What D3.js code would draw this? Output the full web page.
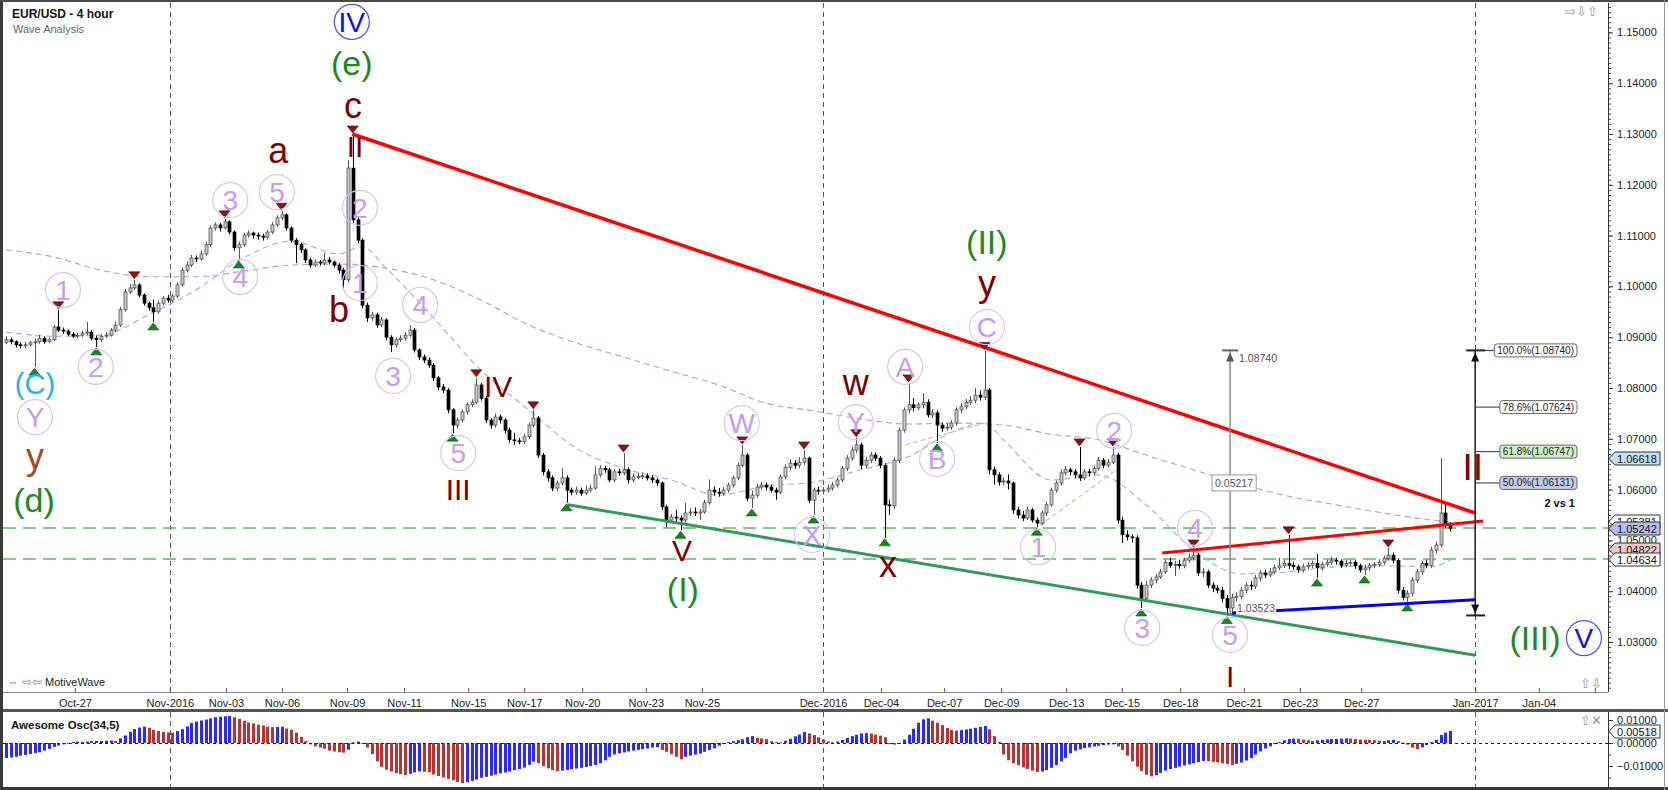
<!DOCTYPE html>
<html><head><meta charset="utf-8"><title>EUR/USD - 4 hour</title>
<script src="https://cdn.jsdelivr.net/npm/d3@7/dist/d3.min.js"></script>
<style>
html,body{margin:0;padding:0;background:#fff;overflow:hidden}
text{font-family:"Liberation Sans",Arial,Helvetica,sans-serif}
</style></head><body>
<svg id="chart" width="1668" height="790"></svg>
<script>
// ---------------- DATA ----------------
const firstOpen = 1.0890;
const closes = [
1.0895,1.0891,1.0885,1.0883,1.0885,1.0889,1.0891,1.0898,1.0891,1.0895,
1.0920,1.0914,1.0912,1.0906,1.0902,1.0904,1.0908,1.0910,1.0898,1.0895,
1.0902,1.0904,1.0914,1.0924,1.0954,1.0989,1.0997,1.1003,1.0983,1.0967,
1.0958,1.0950,1.0967,1.0977,1.0973,1.0981,1.1003,1.1032,1.1042,1.1056,
1.1054,1.1064,1.1082,1.1115,1.1121,1.1115,1.1127,1.1107,1.1076,1.1082,
1.1101,1.1105,1.1101,1.1099,1.1097,1.1107,1.1121,1.1135,1.1141,1.1115,
1.1091,1.1082,1.1072,1.1052,1.1042,1.1048,1.1046,1.1052,1.1048,1.1042,
1.1032,1.1013,1.1233,1.1131,1.1091,1.0963,1.0938,1.0944,1.0924,1.0934,
1.0900,1.0885,1.0895,1.0898,1.0904,1.0914,1.0875,1.0861,1.0855,1.0845,
1.0820,1.0802,1.0796,1.0757,1.0727,1.0737,1.0753,1.0767,1.0772,1.0806,
1.0780,1.0737,1.0727,1.0743,1.0737,1.0717,1.0698,1.0696,1.0694,1.0704,
1.0727,1.0741,1.0668,1.0635,1.0623,1.0603,1.0613,1.0623,1.0599,1.0595,
1.0599,1.0593,1.0599,1.0603,1.0629,1.0642,1.0639,1.0619,1.0635,1.0633,
1.0639,1.0619,1.0625,1.0626,1.0627,1.0623,1.0619,1.0613,1.0566,1.0540,
1.0546,1.0544,1.0540,1.0554,1.0556,1.0554,1.0556,1.0574,1.0599,1.0595,
1.0593,1.0599,1.0609,1.0623,1.0648,1.0668,1.0583,1.0589,1.0605,1.0609,
1.0605,1.0599,1.0595,1.0625,1.0644,1.0652,1.0648,1.0654,1.0662,1.0579,
1.0599,1.0597,1.0599,1.0603,1.0609,1.0619,1.0642,1.0662,1.0678,1.0688,
1.0648,1.0658,1.0668,1.0662,1.0648,1.0570,1.0568,1.0658,1.0717,1.0757,
1.0767,1.0761,1.0767,1.0772,1.0747,1.0751,1.0727,1.0721,1.0723,1.0731,
1.0757,1.0763,1.0772,1.0776,1.0786,1.0782,1.0796,1.0639,1.0629,1.0615,
1.0617,1.0613,1.0560,1.0550,1.0544,1.0560,1.0540,1.0534,1.0554,1.0570,
1.0599,1.0613,1.0633,1.0639,1.0635,1.0629,1.0623,1.0635,1.0633,1.0642,
1.0658,1.0648,1.0654,1.0668,1.0540,1.0511,1.0507,1.0505,1.0412,1.0386,
1.0412,1.0422,1.0428,1.0438,1.0457,1.0451,1.0453,1.0450,1.0461,1.0467,
1.0471,1.0436,1.0438,1.0412,1.0406,1.0402,1.0386,1.0367,1.0388,1.0390,
1.0402,1.0412,1.0410,1.0426,1.0436,1.0432,1.0438,1.0446,1.0450,1.0455,
1.0451,1.0448,1.0442,1.0448,1.0451,1.0455,1.0446,1.0453,1.0457,1.0461,
1.0459,1.0451,1.0455,1.0457,1.0450,1.0442,1.0446,1.0450,1.0453,1.0457,
1.0465,1.0471,1.0461,1.0402,1.0388,1.0396,1.0422,1.0438,1.0455,1.0451,
1.0481,1.0491,1.0554,1.0530,1.0524];
const highs = [
1.0902,1.0899,1.0894,1.0890,1.0891,1.0893,1.0897,1.0905,1.0902,1.0900,
1.0924,1.0954,1.0919,1.0915,1.0910,1.0909,1.0913,1.0930,1.0914,1.0903,
1.0906,1.0910,1.0918,1.0930,1.0960,1.0995,1.1004,1.1013,1.1006,1.0986,
1.0970,1.0974,1.0972,1.0981,1.0983,1.0986,1.1008,1.1038,1.1049,1.1062,
1.1061,1.1070,1.1088,1.1120,1.1126,1.1125,1.1133,1.1130,1.1110,1.1088,
1.1106,1.1110,1.1108,1.1106,1.1104,1.1111,1.1126,1.1140,1.1148,1.1144,
1.1118,1.1095,1.1086,1.1075,1.1056,1.1053,1.1052,1.1066,1.1058,1.1051,
1.1046,1.1036,1.1249,1.1300,1.1136,1.1095,1.0968,1.0950,1.0948,1.0940,
1.0937,1.0904,1.0900,1.0904,1.0910,1.0924,1.0918,1.0878,1.0866,1.0860,
1.0849,1.0824,1.0808,1.0800,1.0760,1.0742,1.0758,1.0772,1.0778,1.0820,
1.0810,1.0784,1.0741,1.0750,1.0748,1.0741,1.0722,1.0712,1.0702,1.0710,
1.0732,1.0757,1.0745,1.0672,1.0640,1.0628,1.0618,1.0642,1.0628,1.0604,
1.0606,1.0604,1.0608,1.0610,1.0646,1.0648,1.0647,1.0643,1.0640,1.0641,
1.0672,1.0644,1.0632,1.0633,1.0634,1.0632,1.0628,1.0623,1.0616,1.0570,
1.0552,1.0560,1.0549,1.0574,1.0563,1.0565,1.0562,1.0580,1.0620,1.0606,
1.0603,1.0605,1.0614,1.0628,1.0654,1.0688,1.0672,1.0598,1.0612,1.0615,
1.0614,1.0610,1.0604,1.0630,1.0650,1.0660,1.0658,1.0664,1.0678,1.0665,
1.0604,1.0606,1.0605,1.0610,1.0615,1.0624,1.0647,1.0668,1.0684,1.0702,
1.0692,1.0664,1.0674,1.0673,1.0666,1.0652,1.0580,1.0664,1.0722,1.0762,
1.0810,1.0780,1.0772,1.0790,1.0778,1.0758,1.0756,1.0732,1.0730,1.0737,
1.0762,1.0770,1.0778,1.0784,1.0800,1.0795,1.0874,1.0800,1.0645,1.0634,
1.0624,1.0630,1.0616,1.0566,1.0558,1.0566,1.0564,1.0545,1.0559,1.0576,
1.0604,1.0618,1.0640,1.0646,1.0643,1.0640,1.0684,1.0640,1.0641,1.0648,
1.0664,1.0662,1.0660,1.0684,1.0672,1.0546,1.0520,1.0512,1.0510,1.0418,
1.0420,1.0428,1.0434,1.0444,1.0462,1.0466,1.0460,1.0462,1.0466,1.0474,
1.0485,1.0476,1.0446,1.0442,1.0418,1.0412,1.0408,1.0392,1.0395,1.0398,
1.0408,1.0418,1.0420,1.0432,1.0442,1.0442,1.0446,1.0452,1.0466,1.0462,
1.0511,1.0458,1.0452,1.0454,1.0457,1.0460,1.0474,1.0458,1.0462,1.0468,
1.0466,1.0463,1.0461,1.0462,1.0461,1.0454,1.0452,1.0456,1.0458,1.0463,
1.0470,1.0485,1.0476,1.0465,1.0408,1.0402,1.0428,1.0444,1.0460,1.0462,
1.0488,1.0498,1.0662,1.0574,1.0536];
const lows = [
1.0886,1.0886,1.0880,1.0878,1.0879,1.0882,1.0841,1.0887,1.0887,1.0888,
1.0892,1.0910,1.0907,1.0902,1.0898,1.0898,1.0900,1.0904,1.0894,1.0881,
1.0890,1.0898,1.0901,1.0910,1.0920,1.0950,1.0985,1.0993,1.0978,1.0962,
1.0952,1.0930,1.0946,1.0962,1.0968,1.0969,1.0977,1.0999,1.1027,1.1038,
1.1048,1.1050,1.1060,1.1078,1.1110,1.1108,1.1112,1.1102,1.1070,1.1052,
1.1078,1.1096,1.1094,1.1092,1.1090,1.1093,1.1103,1.1117,1.1130,1.1110,
1.1086,1.1046,1.1066,1.1046,1.1037,1.1038,1.1041,1.1042,1.1043,1.1037,
1.1026,1.0993,1.1008,1.1125,1.1085,1.0957,1.0930,1.0932,1.0918,1.0920,
1.0894,1.0871,1.0880,1.0890,1.0893,1.0900,1.0870,1.0855,1.0849,1.0840,
1.0814,1.0796,1.0790,1.0750,1.0711,1.0720,1.0732,1.0748,1.0762,1.0768,
1.0775,1.0731,1.0720,1.0722,1.0730,1.0710,1.0692,1.0688,1.0689,1.0690,
1.0700,1.0722,1.0662,1.0628,1.0616,1.0597,1.0598,1.0608,1.0574,1.0589,
1.0590,1.0588,1.0589,1.0594,1.0600,1.0624,1.0633,1.0614,1.0614,1.0627,
1.0628,1.0612,1.0614,1.0620,1.0621,1.0618,1.0613,1.0607,1.0560,1.0526,
1.0535,1.0536,1.0520,1.0536,1.0548,1.0548,1.0540,1.0552,1.0570,1.0588,
1.0586,1.0588,1.0594,1.0604,1.0618,1.0644,1.0577,1.0564,1.0584,1.0600,
1.0598,1.0594,1.0580,1.0591,1.0620,1.0638,1.0641,1.0642,1.0648,1.0573,
1.0550,1.0590,1.0591,1.0594,1.0598,1.0604,1.0614,1.0637,1.0657,1.0672,
1.0640,1.0642,1.0652,1.0656,1.0642,1.0505,1.0550,1.0562,1.0652,1.0712,
1.0750,1.0754,1.0756,1.0760,1.0742,1.0740,1.0692,1.0714,1.0716,1.0718,
1.0726,1.0750,1.0758,1.0766,1.0770,1.0775,1.0776,1.0630,1.0610,1.0608,
1.0608,1.0600,1.0552,1.0543,1.0538,1.0540,1.0535,1.0526,1.0530,1.0548,
1.0566,1.0594,1.0608,1.0628,1.0628,1.0622,1.0617,1.0619,1.0626,1.0628,
1.0637,1.0642,1.0644,1.0650,1.0533,1.0495,1.0500,1.0496,1.0405,1.0367,
1.0380,1.0406,1.0416,1.0424,1.0434,1.0446,1.0430,1.0444,1.0445,1.0456,
1.0460,1.0430,1.0428,1.0406,1.0398,1.0396,1.0378,1.0352,1.0360,1.0380,
1.0384,1.0396,1.0402,1.0404,1.0420,1.0426,1.0427,1.0433,1.0441,1.0446,
1.0444,1.0442,1.0436,1.0437,1.0443,1.0445,1.0426,1.0440,1.0448,1.0452,
1.0452,1.0446,1.0447,1.0449,1.0444,1.0437,1.0432,1.0440,1.0445,1.0448,
1.0452,1.0460,1.0455,1.0396,1.0382,1.0377,1.0390,1.0416,1.0432,1.0445,
1.0446,1.0474,1.0486,1.0524,1.0518];
// Awesome Oscillator (34,5), in units of 0.0001
const aoValues = [
-65,-63,-60,-55,-52,-48,-44,-40,-33,-25,
-17,-11,-6,1,5,6,5,6,8,9,
9,10,11,9,20,33,48,60,67,71,
66,57,52,48,46,45,52,60,72,87,
93,98,102,107,112,114,116,117,112,105,
97,89,85,80,76,71,69,70,71,63,
57,45,27,8,-6,-15,-20,-25,-33,-37,
-40,-42,-29,3,6,-3,-20,-48,-80,-104,
-116,-124,-131,-136,-139,-134,-128,-123,-125,-127,
-137,-144,-150,-156,-162,-169,-175,-170,-165,-159,
-151,-147,-142,-137,-132,-128,-124,-118,-113,-107,
-95,-81,-88,-100,-110,-118,-123,-120,-117,-114,
-111,-108,-104,-100,-96,-88,-75,-60,-50,-45,
-41,-37,-33,-30,-27,-24,-20,-18,-30,-38,
-49,-60,-71,-60,-55,-50,-46,-38,-30,-23,
-12,-4,4,8,12,16,25,30,23,20,
17,8,4,3,10,18,29,37,48,42,
35,25,15,7,3,6,13,22,30,36,
42,43,41,37,32,25,-5,-7,-3,15,
36,62,88,103,107,97,88,78,65,57,
54,56,59,62,66,70,74,60,30,5,
-50,-75,-88,-97,-106,-113,-120,-126,-124,-118,
-108,-96,-80,-65,-45,-33,-28,-22,-19,-15,
-12,-9,-7,-6,-15,-30,-55,-80,-103,-122,
-138,-145,-140,-130,-120,-113,-108,-102,-98,-93,
-88,-83,-78,-79,-82,-84,-88,-92,-96,-91,
-85,-76,-66,-50,-37,-24,-14,-5,4,12,
17,19,18,15,12,9,12,14,16,17,
18,19,20,19,17,15,14,13,12,10,
9,12,14,8,2,-7,-20,-27,-19,-9,
4,14,35,45,52];
// moving averages: [bar index, price]
const maSlow = [[0,1.1072],[10,1.1058],[20,1.1032],[30,1.1019],[40,1.1019],[50,1.1030],[60,1.1042],[70,1.1044],[80,1.1036],[90,1.1013],[100,1.0973],[110,1.0924],[120,1.0889],[130,1.0861],[140,1.0833],[150,1.0806],[160,1.0770],[170,1.0755],[180,1.0739],[190,1.0729],[200,1.0731],[210,1.0727],[220,1.0709],[230,1.0698],[240,1.0668],[250,1.0639],[260,1.0611],[270,1.0587],[280,1.0570],[290,1.0554],[300,1.0540],[304,1.0536]];
const maFast = [[0,1.0910],[10,1.0902],[20,1.0904],[30,1.0944],[40,1.0993],[50,1.1056],[60,1.1089],[70,1.1064],[75,1.1078],[80,1.1036],[90,1.0938],[100,1.0835],[110,1.0757],[120,1.0682],[130,1.0642],[140,1.0619],[150,1.0589],[160,1.0607],[170,1.0615],[180,1.0639],[190,1.0665],[200,1.0717],[206,1.0731],[210,1.0698],[220,1.0619],[230,1.0629],[240,1.0570],[250,1.0481],[260,1.0434],[270,1.0438],[280,1.0448],[290,1.0450],[300,1.0448],[304,1.0461]];
// time axis
const xTickLabels = ['Oct-27','Nov-2016','Nov-03','Nov-06','Nov-09','Nov-11','Nov-15','Nov-17','Nov-20','Nov-23','Nov-25','Dec-2016','Dec-04','Dec-07','Dec-09','Dec-13','Dec-15','Dec-18','Dec-21','Dec-23','Dec-27','Jan-2017','Jan-04',''];
const xTickIndex = [14.5,34.5,46.3,58.1,71.8,83.8,97.3,109.1,121.3,134.7,146.5,172,184.2,197.5,209.5,223.2,234.9,247.2,260.6,272.4,285.3,309.3,322.7,334.5];
const monthStartIndex = [34.5,172,309.3];
const priceTicks = [1.03,1.04,1.05,1.06,1.07,1.08,1.09,1.10,1.11,1.12,1.13,1.14,1.15];
const oscTicks = [-0.01,0,0.01];
// pivots (bar indices)
const pivotHighs = [11,27,46,58,73,99,111,130,155,168,179,190,206,226,233,250,270,291];
const pivotLows = [6,19,31,49,94,118,142,157,170,185,196,217,239,257,276,286,295];
// wave labels: [text, bar index, baseline price, style]
const waveLabels = [
 ['IV',72.8,1.1501,'blue'],['(e)',72.8,1.1416,'green'],['c',73.05,1.1331,'red'],['II',73.5,1.1255,'roman'],
 ['a',57.3,1.1243,'red'],['5',57.05,1.1166,'circ'],['3',47.2,1.1150,'circ'],['4',49.3,1.0999,'circ'],
 ['1',12,1.0973,'circ'],['2',18.9,1.0822,'circ'],['(C)',6.1,1.0788,'cyan'],['Y',6.1,1.0723,'circ'],
 ['y',6.1,1.0641,'brown'],['(d)',5.9,1.0556,'green'],['b',70.1,1.0930,'red'],['2',74.5,1.1135,'circ'],
 ['1',74.5,1.0987,'circ'],['4',87.2,1.0944,'circ'],['3',81.5,1.0804,'circ'],['IV',103.6,1.0782,'roman'],
 ['5',95.2,1.0652,'circ'],['III',95.2,1.0580,'roman'],['W',154.9,1.0711,'circ'],['X',169.7,1.0491,'circ'],
 ['V',142.3,1.0459,'roman'],['(I)',142.5,1.0381,'green'],['w',178.9,1.0786,'red'],['Y',178.9,1.0713,'circ'],
 ['x',185.7,1.0428,'red'],['A',189.3,1.0822,'circ'],['B',196,1.0641,'circ'],['C',206.5,1.0900,'circ'],
 ['y',206.5,1.0981,'red'],['(II)',206.5,1.1064,'green'],['1',217.3,1.0467,'circ'],['2',233.3,1.0696,'circ'],
 ['4',250.3,1.0505,'circ'],['3',239.2,1.0308,'circ'],['5',257.7,1.0294,'circ'],['I',257.7,1.0211,'roman'],
 ['II',308.8,1.0619,'romanBig'],['(III)',321.9,1.0284,'green'],['V',332.2,1.0288,'blue']];
// drawn trend lines: [[i1,p1],[i2,p2], kind]
const trendLines = [
 [[72.9,1.1300],[309.3,1.0554],'redMain'],
 [[243.4,1.0475],[311,1.0538],'redSmall'],
 [[118.3,1.0570],[309.3,1.0274],'green'],
 [[258.1,1.0357],[309.3,1.0383],'blue'],
 [[189.3,1.0688],[206.1,1.0731],'tan'],
 [[216.2,1.0520],[234.5,1.0644],'tan']];
const hLevels = [1.05242,1.04634];
const measureLow = 1.03523, measureHigh = 1.08740, measureDiff = 0.05217;
const measureIndex = 257.7, fibIndex = 309.3;
const fibPct = ['100.0%','78.6%','61.8%','50.0%'];
const fibVal = [1.08740,1.07624,1.06747,1.06131];
const axisCallVal = [1.06618,1.05381,1.05242,1.04822,1.04634];
const aoLast = 0.00518;

// ---------------- DRAW ----------------
const svg = d3.select('#chart');
const x = d3.scaleLinear().domain([0,304]).range([6,1450]);
const y = d3.scaleLinear().domain([1.03,1.15]).range([642,32.4]);
const yo = d3.scaleLinear().domain([-0.01,0.01]).range([766,720]);
const P = {l:3,r:1608,t:3,b:692};
const O = {t:712,b:787};

svg.append('rect').attr('width',1668).attr('height',790).attr('fill','#fff');
const defs = svg.append('defs');
defs.append('clipPath').attr('id','cm').append('rect').attr('x',P.l).attr('y',P.t).attr('width',P.r-P.l).attr('height',P.b-P.t);
defs.append('clipPath').attr('id','co').append('rect').attr('x',P.l).attr('y',O.t).attr('width',P.r-P.l).attr('height',O.b-O.t);

const main = svg.append('g').attr('clip-path','url(#cm)');
const osc = svg.append('g').attr('clip-path','url(#co)');

// month separators
[[main,P.t,P.b],[osc,O.t,O.b]].forEach(([g,t,b])=>{
  g.selectAll(null).data(monthStartIndex).join('line')
   .attr('x1',d=>Math.round(x(d))+0.5).attr('x2',d=>Math.round(x(d))+0.5).attr('y1',t).attr('y2',b)
   .attr('stroke','#555').attr('stroke-width',1).attr('stroke-dasharray','5,4');
});

// horizontal green dashed levels
main.selectAll(null).data(hLevels).join('line')
  .attr('x1',P.l).attr('x2',P.r).attr('y1',d=>y(d)).attr('y2',d=>y(d))
  .attr('stroke','#5fb65f').attr('stroke-width',1.5).attr('stroke-dasharray','13,7');

// moving averages
const maLine = d3.line().x(d=>x(d[0])).y(d=>y(d[1])).curve(d3.curveMonotoneX);
main.append('path').attr('d',maLine(maSlow)).attr('fill','none').attr('stroke','#cc8fd0').attr('stroke-width',1.1).attr('stroke-dasharray','6,4');
main.append('path').attr('d',maLine(maFast)).attr('fill','none').attr('stroke','#8fb2f0').attr('stroke-width',1.1).attr('stroke-dasharray','6,4');

// tan sketch lines (below candles)
const tStyle = {redMain:['#ff0000',3.5,null],redSmall:['#ff0000',3,null],green:['#2f9a5c',3,null],blue:['#0000ff',3,null],tan:['#cfc68c',1.2,'5,3']};
trendLines.filter(t=>t[2]==='tan').forEach(t=>{
  main.append('line').attr('x1',x(t[0][0])).attr('y1',y(t[0][1])).attr('x2',x(t[1][0])).attr('y2',y(t[1][1]))
   .attr('stroke',tStyle.tan[0]).attr('stroke-width',tStyle.tan[1]).attr('stroke-dasharray',tStyle.tan[2]);
});

// candles
const candles = closes.map((c,i)=>{const o = i===0?firstOpen:closes[i-1]; return {i,o,c,h:Math.max(highs[i],o,c),l:Math.min(lows[i],o,c)};});
const cg = main.append('g');
cg.selectAll('line').data(candles).join('line')
  .attr('x1',d=>Math.round(x(d.i))+0.5).attr('x2',d=>Math.round(x(d.i))+0.5)
  .attr('y1',d=>y(d.h)).attr('y2',d=>y(d.l)).attr('stroke',d=>d.c>=d.o?'#555':'#000').attr('stroke-width',1);
cg.selectAll('rect').data(candles).join('rect')
  .attr('x',d=>Math.round(x(d.i))-1).attr('width',3)
  .attr('y',d=>y(Math.max(d.o,d.c))).attr('height',d=>Math.max(1,y(Math.min(d.o,d.c))-y(Math.max(d.o,d.c))))
  .attr('fill',d=>d.c>=d.o?'#c9c9c9':'#000').attr('stroke',d=>d.c>=d.o?'#444':'#000').attr('stroke-width',0.7);

// trend lines
trendLines.filter(t=>t[2]!=='tan').forEach(t=>{
  const s = tStyle[t[2]];
  main.append('line').attr('x1',x(t[0][0])).attr('y1',y(t[0][1])).attr('x2',x(t[1][0])).attr('y2',y(t[1][1]))
   .attr('stroke',s[0]).attr('stroke-width',s[1]).attr('stroke-linecap','butt');
});

// pivot triangles
main.selectAll(null).data(pivotHighs).join('path')
  .attr('d',i=>{const cx=x(i), ty=y(candles[i].h)-1; return `M${cx-5.5},${ty-7}L${cx+5.5},${ty-7}L${cx},${ty}Z`;})
  .attr('fill','#8e1414').attr('stroke','#4a0000').attr('stroke-width',0.6);
main.selectAll(null).data(pivotLows).join('path')
  .attr('d',i=>{const cx=x(i), ty=y(candles[i].l)+1; return `M${cx},${ty}L${cx-5.5},${ty+7}L${cx+5.5},${ty+7}Z`;})
  .attr('fill','#158a15').attr('stroke','#0a4a0a').attr('stroke-width',0.6);

// measurement (left, gray)
const mx = x(measureIndex);
const mg = main.append('g');
mg.append('line').attr('x1',mx).attr('x2',mx).attr('y1',y(measureLow)).attr('y2',y(measureHigh)).attr('stroke','#8a8a8a').attr('stroke-width',1.5);
mg.append('line').attr('x1',mx-8).attr('x2',mx+8).attr('y1',y(measureHigh)).attr('y2',y(measureHigh)).attr('stroke','#666').attr('stroke-width',2);
mg.append('path').attr('d',`M${mx},${y(measureHigh)+2}L${mx-4},${y(measureHigh)+11}L${mx+4},${y(measureHigh)+11}Z`).attr('fill','#555');
mg.append('text').attr('x',mx+9).attr('y',y(measureHigh)+12).attr('font-size',10.5).attr('fill','#555').text(measureHigh.toFixed(5));
const lowTxt = mg.append('text').attr('x',mx+7).attr('y',y(measureLow)-3).attr('font-size',10.5).attr('fill','#555').text(measureLow.toFixed(5));
const lb = lowTxt.node().getBBox();
mg.insert('rect','text:last-of-type').attr('x',lb.x-1).attr('y',lb.y).attr('width',lb.width+2).attr('height',lb.height).attr('fill','#fff');
const midY = (y(measureLow)+y(measureHigh))/2 + 0;
const dTxt = mg.append('text').attr('x',mx+4).attr('y',midY+4).attr('text-anchor','middle').attr('font-size',10.5).attr('fill','#555').text(measureDiff.toFixed(5));
const db = dTxt.node().getBBox();
mg.insert('rect','text:last-of-type').attr('x',db.x-3).attr('y',db.y-2).attr('width',db.width+6).attr('height',db.height+4).attr('fill','#fff').attr('stroke','#999');

// wave labels
const styleMap = {
  circ:{fill:'#c49cf6',size:28,circle:'#d8c3f8',r:17.5},
  red:{fill:'#7d0000',size:36},
  roman:{fill:'#7d0000',size:30},
  romanBig:{fill:'#7d0000',size:37},
  green:{fill:'#1e8a1e',size:34},
  blue:{fill:'#0a0aff',size:28,circle:'#4f4fff',r:17.5},
  cyan:{fill:'#1ab2ef',size:29},
  brown:{fill:'#a34a1c',size:36}
};
const lg = main.append('g');
waveLabels.forEach(([t,i,p,s])=>{
  const st = styleMap[s], px = x(i), py = y(p);
  if (st.r) lg.append('circle').attr('cx',px).attr('cy',py-0.357*st.size).attr('r',st.r).attr('fill','none').attr('stroke',st.circle).attr('stroke-width',1.2);
  lg.append('text').attr('x',px).attr('y',py).attr('text-anchor','middle').attr('font-size',st.size).attr('fill',st.fill).text(t);
});

// fib measurement (right)
const fx = x(fibIndex);
const fg = svg.append('g');
fg.append('line').attr('x1',fx).attr('x2',fx).attr('y1',y(measureLow)).attr('y2',y(measureHigh)).attr('stroke','#222').attr('stroke-width',1.5);
fg.append('line').attr('x1',fx-9).attr('x2',fx+10).attr('y1',y(measureHigh)).attr('y2',y(measureHigh)).attr('stroke','#222').attr('stroke-width',2);
fg.append('line').attr('x1',fx-9).attr('x2',fx+10).attr('y1',y(measureLow)).attr('y2',y(measureLow)).attr('stroke','#222').attr('stroke-width',2);
fg.append('path').attr('d',`M${fx},${y(measureHigh)+2}L${fx-4},${y(measureHigh)+11}L${fx+4},${y(measureHigh)+11}Z`).attr('fill','#111');
fg.append('path').attr('d',`M${fx},${y(measureLow)-2}L${fx-4},${y(measureLow)-11}L${fx+4},${y(measureLow)-11}Z`).attr('fill','#111');
const fibFill = ['#ffffff','#ffffff','#cdf2c6','#c5cbf3'];
fibVal.forEach((v,k)=>{
  const yy = y(v);
  const g = fg.append('g');
  const r = g.append('rect');
  const t = g.append('text').attr('x',1574).attr('y',yy+3.5).attr('text-anchor','end').attr('font-size',10).attr('fill','#222').text(`${fibPct[k]}(${v.toFixed(5)})`);
  const b = t.node().getBBox();
  r.attr('x',b.x-3).attr('y',yy-6.5).attr('width',b.width+6).attr('height',13).attr('rx',3).attr('fill',fibFill[k]).attr('stroke','#666');
  g.insert('line','rect').attr('x1',fx).attr('x2',b.x-3).attr('y1',yy).attr('y2',yy).attr('stroke','#333').attr('stroke-width',1);
});
fg.append('text').attr('x',1575).attr('y',y(fibVal[3])+24).attr('text-anchor','end').attr('font-size',11).attr('font-weight','bold').attr('fill','#111').text('2 vs 1');

// ---------- axes & frame ----------
// price axis
const yAxis = d3.axisRight(y).tickValues(priceTicks).tickFormat(d3.format('.5f')).tickSize(5).tickSizeOuter(0).tickPadding(4);
const ya = svg.append('g').attr('transform',`translate(${P.r},0)`).call(yAxis);
ya.select('.domain').remove();
ya.selectAll('text').attr('font-size',11).attr('fill','#222').attr('font-family','"Liberation Sans",Arial,sans-serif');
ya.selectAll('line').attr('stroke','#333');
const minor = d3.range(1.021,1.1555,0.001);
svg.append('g').attr('transform',`translate(${P.r},0)`).call(d3.axisRight(y).tickValues(minor).tickSize(3).tickFormat(''))
  .call(g=>{g.select('.domain').remove(); g.selectAll('line').attr('stroke','#444');});
svg.append('line').attr('x1',P.r+0.5).attr('x2',P.r+0.5).attr('y1',P.t).attr('y2',P.b).attr('stroke','#333');

// axis callouts
const callFill = ['#c3e2f6','#ffffff','#b9bdf1','#f6c9c9','#ffffff'];
const cOrder = [1,0,2,3,4];
cOrder.forEach(k=>{
  const v = axisCallVal[k], yy = Math.round(y(v))+0.5;
  svg.append('path').attr('d',`M${P.r+1},${yy}L${P.r+7},${yy-6.5}L1660,${yy-6.5}L1660,${yy+6.5}L${P.r+7},${yy+6.5}Z`)
    .attr('fill',callFill[k]).attr('stroke','#333').attr('stroke-width',1);
  svg.append('text').attr('x',1617).attr('y',yy+4).attr('font-size',11).attr('fill','#111').text(v.toFixed(5));
});

// time axis
const xAxis = d3.axisBottom(x).tickValues(xTickIndex).tickFormat((d,k)=>xTickLabels[k]).tickSize(-4).tickSizeOuter(0).tickPadding(7);
const xa = svg.append('g').attr('transform',`translate(0,${P.b})`).call(xAxis);
xa.select('.domain').remove();
xa.selectAll('text').attr('font-size',11).attr('fill','#222').attr('font-family','"Liberation Sans",Arial,sans-serif');
xa.selectAll('line').attr('stroke','#555');
svg.append('line').attr('x1',P.l).attr('x2',P.r).attr('y1',P.b+0.5).attr('y2',P.b+0.5).attr('stroke','#888');

// oscillator
let prevCol = '#2a2aff';
const aoCols = aoValues.map((v,i)=>{ if(i>0){ if(v>aoValues[i-1]) prevCol='#2a2aff'; else if(v<aoValues[i-1]) prevCol='#b53434'; } return prevCol; });
osc.selectAll('rect.ao').data(aoValues).join('rect')
  .attr('x',(d,i)=>Math.round(x(i))-1).attr('width',3)
  .attr('y',d=>Math.min(yo(d*1e-4),yo(0))).attr('height',d=>Math.max(1,Math.abs(yo(d*1e-4)-yo(0))))
  .attr('fill',(d,i)=>aoCols[i]);
osc.append('line').attr('x1',P.l).attr('x2',P.r).attr('y1',yo(0)+0.5).attr('y2',yo(0)+0.5).attr('stroke','#222').attr('stroke-dasharray','3,3');
const oAxis = d3.axisRight(yo).tickValues(oscTicks).tickFormat(d3.format('.5f')).tickSize(5).tickSizeOuter(0).tickPadding(4);
const oa = svg.append('g').attr('transform',`translate(${P.r},0)`).call(oAxis);
oa.select('.domain').remove();
oa.selectAll('text').attr('font-size',11).attr('fill','#222').attr('font-family','"Liberation Sans",Arial,sans-serif');
oa.selectAll('line').attr('stroke','#333');
svg.append('g').attr('transform',`translate(${P.r},0)`).call(d3.axisRight(yo).tickValues([-0.015,-0.005,0.005]).tickSize(3).tickFormat(''))
  .call(g=>{g.select('.domain').remove(); g.selectAll('line').attr('stroke','#444');});
svg.append('line').attr('x1',P.r+0.5).attr('x2',P.r+0.5).attr('y1',O.t).attr('y2',O.b).attr('stroke','#333');
{
  const yy = Math.round(yo(aoLast))+0.5;
  svg.append('path').attr('d',`M${P.r+1},${yy}L${P.r+7},${yy-6.5}L1660,${yy-6.5}L1660,${yy+6.5}L${P.r+7},${yy+6.5}Z`).attr('fill','#fff').attr('stroke','#333');
  svg.append('text').attr('x',1617).attr('y',yy+4).attr('font-size',11).attr('fill','#111').text(aoLast.toFixed(5));
}
svg.append('text').attr('x',11).attr('y',729).attr('font-size',11.5).attr('font-weight','bold').attr('fill','#111').text('Awesome Osc(34,5)');

// frame
svg.append('rect').attr('x',0).attr('y',709).attr('width',1668).attr('height',3).attr('fill','#555');
svg.append('rect').attr('x',0).attr('y',787).attr('width',1668).attr('height',3).attr('fill','#3a3a3a');
svg.append('rect').attr('x',0).attr('y',0).attr('width',3).attr('height',790).attr('fill','#3a3a3a');
svg.append('rect').attr('x',0).attr('y',0).attr('width',1668).attr('height',2).attr('fill','#4a4a4a');
svg.append('line').attr('x1',1664.5).attr('x2',1664.5).attr('y1',0).attr('y2',790).attr('stroke','#999');

// titles & icons
svg.append('text').attr('x',12).attr('y',18).attr('font-size',12).attr('font-weight','bold').attr('fill','#111').text('EUR/USD - 4 hour');
svg.append('text').attr('x',13).attr('y',33).attr('font-size',11).attr('fill','#666').text('Wave Analysis');
svg.append('text').attr('x',1565).attr('y',16).attr('font-size',13).attr('fill','#999').attr('font-family','"DejaVu Sans"').text('⇨⇩⇧');
svg.append('text').attr('x',1580).attr('y',688).attr('font-size',13).attr('fill','#999').attr('font-family','"DejaVu Sans"').text('⇧⇩');
svg.append('text').attr('x',1580).attr('y',725).attr('font-size',13).attr('fill','#999').attr('font-family','"DejaVu Sans"').text('⇧✕');
svg.append('text').attr('x',7).attr('y',686).attr('font-size',12).attr('fill','#888').attr('font-family','"DejaVu Sans"').text('⇔ ⇨⇦');
svg.append('text').attr('x',45).attr('y',686).attr('font-size',11).attr('fill','#222').text('MotiveWave');
</script></body></html>
